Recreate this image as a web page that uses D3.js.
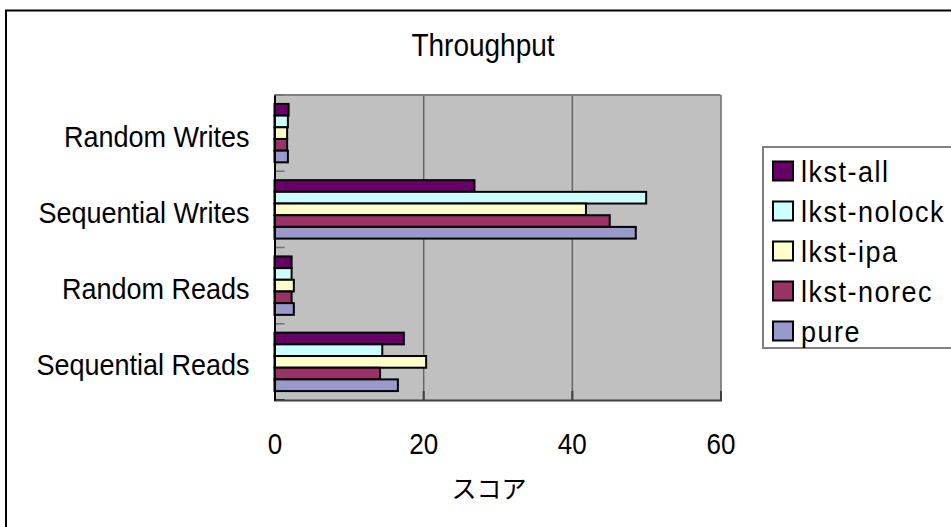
<!DOCTYPE html>
<html>
<head>
<meta charset="utf-8">
<script src="https://cdn.jsdelivr.net/npm/d3@7/dist/d3.min.js"></script>
<style>
  html, body { margin: 0; padding: 0; background: #fff; }
  svg { display: block; }
  text { font-family: "Liberation Sans", Arial, sans-serif; fill: #000; }
</style>
</head>
<body>
<svg id="chart" width="951" height="527"></svg>
<script>
// data
var categories = ["Random Writes", "Sequential Writes", "Random Reads", "Sequential Reads"];
var seriesNames = ["lkst-all", "lkst-nolock", "lkst-ipa", "lkst-norec", "pure"];
var seriesColors = ["#660066", "#ccffff", "#ffffcc", "#993366", "#9999cc"];
var lkstAll    = [1.9, 26.9, 2.3, 17.4];
var lkstNolock = [1.8, 50.0, 2.3, 14.5];
var lkstIpa    = [1.7, 41.9, 2.6, 20.4];
var lkstNorec  = [1.7, 45.1, 2.3, 14.2];
var pure       = [1.8, 48.6, 2.6, 16.6];
var xTicks = [0, 20, 40, 60];

var seriesValues = [lkstAll, lkstNolock, lkstIpa, lkstNorec, pure];

var svg = d3.select("#chart");

// the old excel picture has its text a bit taller than wide
function stretch(sel, k) {
  sel.each(function() {
    var b = this.getBBox();
    var cy = b.y + b.height / 2;
    d3.select(this).attr("transform",
      "translate(0," + cy + ") scale(1," + k + ") translate(0," + (-cy) + ")");
  });
}

// outer chart frame (runs off right and bottom like the screenshot)
svg.append("rect")
  .attr("x", 6).attr("y", 10.5)
  .attr("width", 1000).attr("height", 600)
  .attr("fill", "#fff").attr("stroke", "#000").attr("stroke-width", 2);

var plot = {left: 274.5, top: 95, right: 720.5, bottom: 400};
var w = plot.right - plot.left, h = plot.bottom - plot.top;

var x = d3.scaleLinear().domain([0, 60]).range([0, w]);
var y = d3.scaleBand().domain(categories).range([0, h])
  .paddingInner(0.234).paddingOuter(0.117);
var y1 = d3.scaleBand().domain(seriesNames).range([0, y.bandwidth()]);
var color = d3.scaleOrdinal().domain(seriesNames).range(seriesColors);

var g = svg.append("g").attr("transform", "translate(" + plot.left + "," + plot.top + ")");

g.append("rect").attr("width", w).attr("height", h).attr("fill", "#c0c0c0");

// gridlines
g.append("g")
  .attr("transform", "translate(0," + h + ")")
  .call(d3.axisBottom(x).tickValues(xTicks).tickSize(-h).tickFormat(""))
  .call(function(s) {
    s.select(".domain").remove();
    s.selectAll("line").attr("stroke", "#666").attr("stroke-width", 1.5);
  });

// top border of plot
g.append("line").attr("x1", 0).attr("x2", w).attr("y1", 0).attr("y2", 0)
  .attr("stroke", "#808080").attr("stroke-width", 2);

// bars
var rows = [];
categories.forEach(function(c, i) {
  seriesNames.forEach(function(s, j) {
    rows.push({cat: c, name: s, value: seriesValues[j][i]});
  });
});

g.selectAll("rect.bar").data(rows).enter()
  .append("rect")
  .attr("class", "bar")
  .attr("x", 0)
  .attr("y", function(d) { return y(d.cat) + y1(d.name); })
  .attr("width", function(d) { return x(d.value); })
  .attr("height", y1.bandwidth())
  .attr("fill", function(d) { return color(d.name); })
  .attr("stroke", "#000")
  .attr("stroke-width", 2);

// small inner ticks on the category axis, at band boundaries
var bounds = d3.range(categories.length + 1).map(function(i) { return i * y.step(); });
g.selectAll("line.ctick").data(bounds).enter()
  .append("line")
  .attr("class", "ctick")
  .attr("x1", 0).attr("x2", 10)
  .attr("y1", function(d) { return d; }).attr("y2", function(d) { return d; })
  .attr("stroke", function(d, i) { return i == categories.length ? "#000" : "#707070"; })
  .attr("stroke-width", 1.5);

// value axis inner ticks + line
g.append("g")
  .attr("transform", "translate(0," + h + ")")
  .call(d3.axisBottom(x).tickValues(xTicks).tickSize(-9).tickFormat(""))
  .call(function(s) {
    s.select(".domain").attr("stroke", "#404040").attr("stroke-width", 2);
    s.selectAll("line").attr("stroke", "#404040").attr("stroke-width", 2);
  });

// tick labels
g.append("g")
  .attr("transform", "translate(0," + h + ")")
  .call(d3.axisBottom(x).tickValues(xTicks).tickSize(0).tickPadding(35))
  .call(function(s) {
    s.select(".domain").remove();
    s.selectAll("text").attr("font-size", 26).attr("font-family", "Liberation Sans, Arial, sans-serif");
    stretch(s.selectAll("text"), 1.1);
  });

// category axis
g.append("g")
  .call(d3.axisLeft(y).tickSize(0).tickPadding(25))
  .call(function(s) {
    s.select(".domain").attr("stroke", "#000").attr("stroke-width", 2);
    s.selectAll("text")
      .attr("font-size", 27)
      .attr("dy", "12.5px")
      .attr("font-family", "Liberation Sans, Arial, sans-serif");
    stretch(s.selectAll("text"), 1.1);
  });

// title
svg.append("text")
  .attr("x", 483).attr("y", 55)
  .attr("text-anchor", "middle")
  .attr("font-size", 28)
  .text("Throughput")
  .call(stretch, 1.1);

// axis title
svg.append("text")
  .attr("x", 489).attr("y", 498)
  .attr("text-anchor", "middle")
  .attr("font-size", 25)
  .style("font-family", "'Noto Sans CJK JP', sans-serif")
  .text("スコア");

// legend
var legend = svg.append("g").attr("transform", "translate(763,147)");
legend.append("rect")
  .attr("width", 300).attr("height", 201)
  .attr("fill", "#fff").attr("stroke", "#808080").attr("stroke-width", 2);

var item = legend.selectAll("g.item").data(seriesNames).enter()
  .append("g").attr("class", "item")
  .attr("transform", function(d, i) { return "translate(0," + (24 + i * 40) + ")"; });

item.append("rect")
  .attr("x", 10).attr("y", -9.5)
  .attr("width", 20).attr("height", 19)
  .attr("fill", function(d) { return color(d); })
  .attr("stroke", "#000").attr("stroke-width", 2);

item.append("text")
  .attr("x", 38).attr("y", 10)
  .attr("font-size", 27)
  .attr("letter-spacing", "1.5px")
  .text(function(d) { return d; })
  .call(stretch, 1.1);
</script>
</body>
</html>
